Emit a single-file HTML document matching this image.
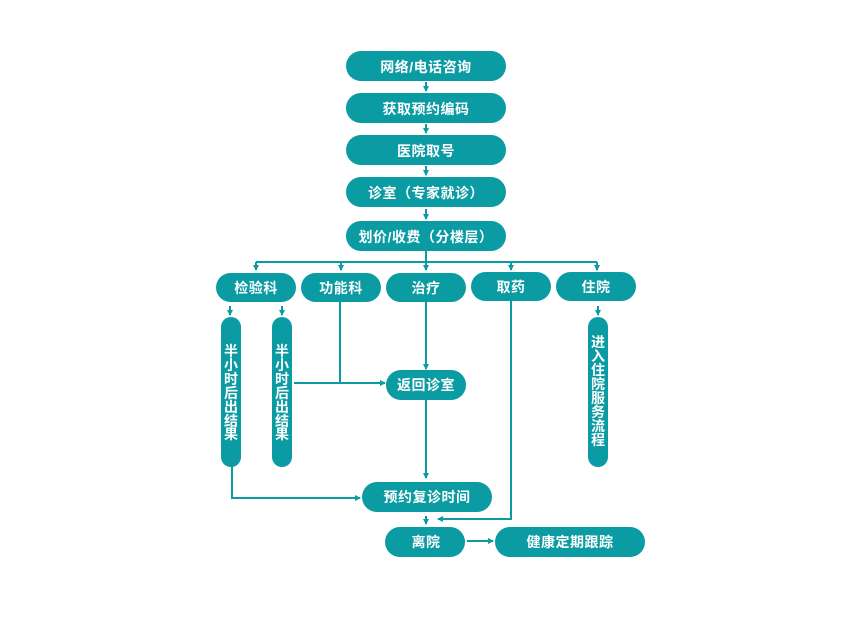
<!DOCTYPE html>
<html><head><meta charset="utf-8"><style>
html,body{margin:0;padding:0;background:#fff;}
svg{display:block}
text{font-family:"Liberation Sans","Noto Sans CJK SC",sans-serif;font-size:14px;font-weight:bold;fill:#fff;text-anchor:middle;dominant-baseline:central}
.h{letter-spacing:0.5px}
</style></head><body>
<svg width="861" height="617" viewBox="0 0 861 617" xmlns="http://www.w3.org/2000/svg">
<defs><marker id="a" markerWidth="6" markerHeight="6" refX="5" refY="3" orient="auto" markerUnits="userSpaceOnUse"><path d="M0,0 L6,3 L0,6 z" fill="#0b9ba3"/></marker></defs>
<g fill="#0b9ba3">
<rect x="346" y="51" width="160" height="30" rx="15"/>
<rect x="346" y="93" width="160" height="30" rx="15"/>
<rect x="346" y="135" width="160" height="30" rx="15"/>
<rect x="346" y="177" width="160" height="30" rx="15"/>
<rect x="346" y="221" width="160" height="30" rx="15"/>
<rect x="216" y="273" width="80" height="29" rx="14.5"/>
<rect x="301" y="273" width="80" height="29" rx="14.5"/>
<rect x="386" y="273" width="80" height="29" rx="14.5"/>
<rect x="471" y="272" width="80" height="29" rx="14.5"/>
<rect x="556" y="272" width="80" height="29" rx="14.5"/>
<rect x="221" y="317" width="20" height="150" rx="10"/>
<rect x="272" y="317" width="20" height="150" rx="10"/>
<rect x="588" y="317" width="20" height="150" rx="10"/>
<rect x="386" y="370" width="80" height="30" rx="15"/>
<rect x="362" y="482" width="130" height="30" rx="15"/>
<rect x="385" y="527" width="80" height="30" rx="15"/>
<rect x="495" y="527" width="150" height="30" rx="15"/>
</g>
<g stroke="#0b9ba3" stroke-width="2" fill="none">
<path d="M426,82V91" marker-end="url(#a)"/>
<path d="M426,124V133" marker-end="url(#a)"/>
<path d="M426,166V175" marker-end="url(#a)"/>
<path d="M426,209V219" marker-end="url(#a)"/>
<path d="M426,251V262"/>
<path d="M256,262H597"/>
<path d="M256,262V270" marker-end="url(#a)"/>
<path d="M341,262V270" marker-end="url(#a)"/>
<path d="M426,262V270" marker-end="url(#a)"/>
<path d="M511,262V270" marker-end="url(#a)"/>
<path d="M597,262V270" marker-end="url(#a)"/>
<path d="M230,306V315" marker-end="url(#a)"/>
<path d="M282,306V315" marker-end="url(#a)"/>
<path d="M598,306V315" marker-end="url(#a)"/>
<path d="M340,302V383"/>
<path d="M294,383H385" marker-end="url(#a)"/>
<path d="M426,302V369" marker-end="url(#a)"/>
<path d="M426,400V478" marker-end="url(#a)"/>
<path d="M232,466V498H360" marker-end="url(#a)"/>
<path d="M511,301V519H438" marker-end="url(#a)"/>
<path d="M426,516V524" marker-end="url(#a)"/>
<path d="M467,541H493" marker-end="url(#a)"/>
</g>
<g class="h">
<text x="426" y="67">网络/电话咨询</text>
<text x="426" y="109">获取预约编码</text>
<text x="426" y="151">医院取号</text>
<text x="426" y="193">诊室（专家就诊）</text>
<text x="426" y="237">划价/收费（分楼层）</text>
<text x="256" y="288">检验科</text>
<text x="341" y="288">功能科</text>
<text x="426" y="288">治疗</text>
<text x="511" y="287">取药</text>
<text x="596" y="287">住院</text>
<text x="426" y="385">返回诊室</text>
<text x="427" y="497">预约复诊时间</text>
<text x="426" y="542">离院</text>
<text x="570" y="542">健康定期跟踪</text>
</g>
<g font-size="14">
<text x="231" y="351">半</text><text x="231" y="365">小</text><text x="231" y="379">时</text><text x="231" y="393">后</text><text x="231" y="407">出</text><text x="231" y="421">结</text><text x="231" y="434">果</text>
<text x="282" y="351">半</text><text x="282" y="365">小</text><text x="282" y="379">时</text><text x="282" y="393">后</text><text x="282" y="407">出</text><text x="282" y="421">结</text><text x="282" y="434">果</text>
<text x="598" y="342">进</text><text x="598" y="356">入</text><text x="598" y="370">住</text><text x="598" y="384">院</text><text x="598" y="398">服</text><text x="598" y="412">务</text><text x="598" y="426">流</text><text x="598" y="440">程</text>
</g>
</svg>
</body></html>
